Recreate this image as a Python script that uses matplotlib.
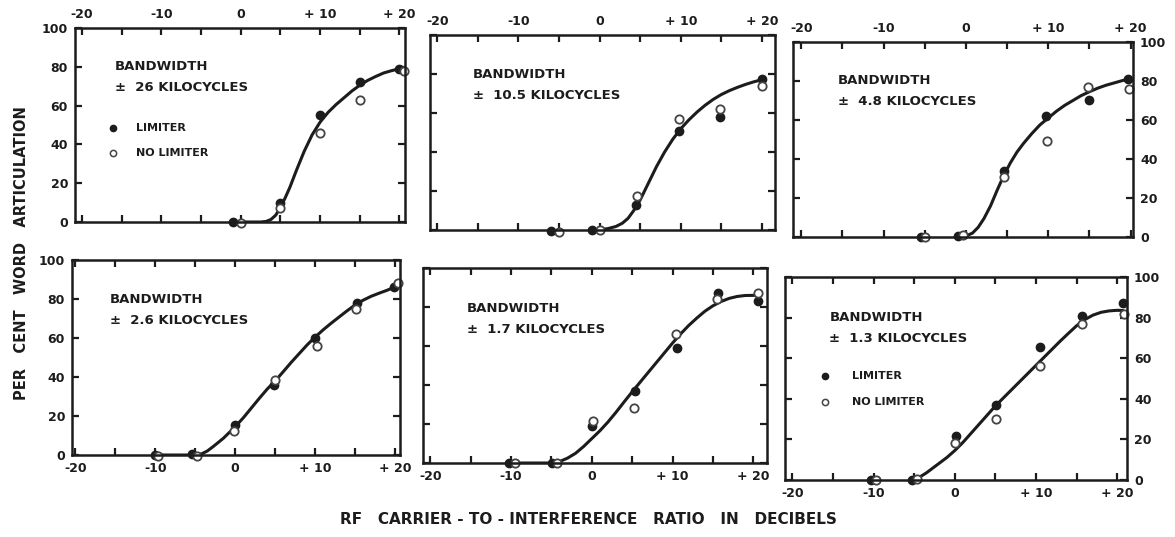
import matplotlib
matplotlib.use('Agg')
import matplotlib.pyplot as plt

# bandwidth of each panel, in kilocycles (top row, then bottom row)
bandwidths = ['26', '10.5', '4.8', '2.6', '1.7', '1.3']

# 26 kc
kc26_lim_x = [-1, 5, 10, 15, 20]
kc26_lim_y = [0, 10, 55, 72, 79]
kc26_nolim_x = [0, 5, 10, 15, 20.6]
kc26_nolim_y = [-0.5, 7, 46, 63, 78]
kc26_curve_x = [-1, 2.5, 3.2, 3.8, 4.4, 5, 5.6, 6.2, 7, 8, 9, 10, 11, 12, 13, 14,
                15, 16, 17, 18, 19, 20, 20.6]
kc26_curve_y = [0, 0, 0.3, 1.3, 3.5, 7.5, 12.5, 18, 26.5, 36.5, 45, 51.5, 56.5, 60.5,
                64, 67.5, 70.5, 73, 75, 76.8, 78, 79, 79.5]

# 10.5 kc
kc105_lim_x = [-6, -1, 4.5, 9.8, 14.8, 20]
kc105_lim_y = [-0.5, 0, 13, 51, 58, 77.5]
kc105_nolim_x = [-5, 0, 4.6, 9.8, 14.8, 20]
kc105_nolim_y = [-1, 0, 17.5, 57, 62, 74]
kc105_curve_x = [-1, 0, 1, 2, 2.8, 3.5, 4.2, 5, 6, 7, 8, 9, 10, 11, 12, 13, 14, 15,
                 16, 17, 18, 19, 20.2]
kc105_curve_y = [0, 0.2, 0.7, 1.8, 3.5, 6, 10, 15.5, 24, 32.5, 40, 46.5, 52, 56.5,
                 60.5, 64, 67, 69.5, 71.5, 73.2, 74.7, 76, 77.3]

# 4.8 kc
kc48_lim_x = [-5.5, -1, 4.6, 9.7, 15, 19.7]
kc48_lim_y = [0, 0.5, 34, 62, 70, 81]
kc48_nolim_x = [-5, -0.3, 4.6, 9.8, 14.8, 19.8]
kc48_nolim_y = [0, 1, 31, 49, 77, 76]
kc48_curve_x = [-1, 0, 0.8, 1.5, 2.2, 3, 3.8, 4.6, 5.4, 6.2, 7, 8, 9, 10, 11, 12, 13,
                14, 15, 16, 17, 18, 19, 19.8]
kc48_curve_y = [0, 0.5, 2, 5, 9.5, 16, 24, 31.5, 38, 43.5, 48, 53, 57.5, 61, 64.5,
                67.5, 70, 72.5, 74.5, 76.3, 77.8, 79, 80.2, 81]

# 2.6 kc
kc26b_lim_x = [-10, -5.4, 0, 4.9, 10, 15.2, 19.8]
kc26b_lim_y = [0, 0.5, 15.5, 36, 60, 78, 86]
kc26b_nolim_x = [-9.6, -4.8, -0.1, 5, 10.2, 15.1, 20.4]
kc26b_nolim_y = [-0.5, -0.5, 12.5, 38.5, 56, 75, 88]
kc26b_curve_x = [-10, -4.8, -4.2, -3.5, -2.7, -1.5, 0, 1, 2, 3, 4, 5, 6, 7, 8, 9, 10,
                 11, 12, 13, 14, 15, 16, 17, 18, 19, 20.3]
kc26b_curve_y = [0, 0, 0.6, 2, 4.5, 8.5, 14.5, 19, 24, 29, 33.8, 38, 42.7, 47.5, 52,
                 56.5, 60.5, 64.2, 67.6, 70.8, 74, 77, 79.4, 81.4, 83, 84.5, 86.8]

# 1.7 kc
kc17_lim_x = [-10.3, -4.9, 0, 5.3, 10.5, 15.6, 20.6]
kc17_lim_y = [0, 0, 19, 37, 59, 87, 83]
kc17_nolim_x = [-9.5, -4.3, 0.1, 5.2, 10.4, 15.5, 20.6]
kc17_nolim_y = [0, 0, 21.5, 28, 66, 84, 87]
kc17_curve_x = [-10, -5, -4, -3, -2, -1, 0, 1, 2, 3, 4, 5, 6, 7, 8, 9, 10, 11, 12, 13,
                14, 15, 16, 17, 18, 19, 20.6]
kc17_curve_y = [0, 0, 0.7, 2.5, 5, 8.5, 12.5, 16.5, 21, 26, 31.3, 36.5, 41.5, 46.5,
                51.5, 56.5, 61.5, 66.2, 70.5, 74.3, 77.8, 80.6, 82.8, 84.4, 85.4,
                85.9, 86]

# 1.3 kc
kc13_lim_x = [-10.3, -5.3, 0.1, 5.1, 10.5, 15.6, 20.7]
kc13_lim_y = [0, 0, 21.5, 37, 65.5, 81, 87]
kc13_nolim_x = [-9.7, -4.7, 0, 5.1, 10.5, 15.6, 20.8]
kc13_nolim_y = [0, 0.5, 18, 30, 56, 77, 82]
kc13_curve_x = [-5.3, -4.5, -3.5, -2.5, -1, 0, 1, 2, 3, 4, 5, 6, 7, 8, 9, 10, 11, 12,
                13, 14, 15, 16, 17, 18, 19, 20, 20.7]
kc13_curve_y = [0, 1, 3.5, 6.5, 11, 14.5, 18.5, 23, 27.5, 32, 36.5, 40.5, 44.5, 48.5,
                52.5, 56.5, 60.5, 64.5, 68.5, 72.3, 76, 79, 81.2, 82.6, 83.3, 83.6,
                83.5]

x_ticks = [-20, -15, -10, -5, 0, 5, 10, 15, 20]
x_tick_labels = ['-20', '', '-10', '', '0', '', '+ 10', '', '+ 20']
y_ticks = [0, 20, 40, 60, 80, 100]
y_tick_labels = ['0', '20', '40', '60', '80', '100']

ink = '#1c1c1c'
W, H = 1175, 537

fig = plt.figure(figsize=(W / 100, H / 100), dpi=100)
fig.patch.set_facecolor('white')


def panel(box, xlim, bw, lim, nolim, curve, top, yside, legend=None):
    l, t, r, b = box
    ax = fig.add_axes([l / W, 1 - b / H, (r - l) / W, (b - t) / H])
    ax.plot(curve[0], curve[1], color=ink, lw=2.2, solid_capstyle='round',
            solid_joinstyle='round')
    ax.plot(lim[0], lim[1], 'o', ms=6, color=ink, clip_on=False)
    ax.plot(nolim[0], nolim[1], 'o', ms=6, mfc='white', mec='#444444', mew=1.3, clip_on=False)
    ax.set_xlim(*xlim)
    ax.set_ylim(0, 100)
    ax.set_xticks(x_ticks)
    ax.set_xticklabels(x_tick_labels)
    ax.set_yticks(y_ticks)
    ax.set_yticklabels(y_tick_labels)
    for s in ax.spines.values():
        s.set_linewidth(1.8)
        s.set_color(ink)
    ax.tick_params(direction='in', length=5, width=1.6, color=ink, top=True, right=True,
                   labelsize=9, labelcolor=ink, pad=5,
                   labeltop=top, labelbottom=not top,
                   labelleft=(yside == 'left'), labelright=(yside == 'right'))
    for lab in ax.get_xticklabels() + ax.get_yticklabels():
        lab.set_fontweight('bold')
    bx, by = bw
    ax.text(bx, by, 'BANDWIDTH', transform=ax.transAxes, fontsize=9.5,
            fontweight='bold', color=ink, va='center')
    ax.text(bx, by - 0.105, '\u00b1  ' + lim[2] + ' KILOCYCLES', transform=ax.transAxes,
            fontsize=9.5, fontweight='bold', color=ink, va='center')
    if legend:
        mx, y1, y2, tx = legend
        ax.plot([mx], [y1], 'o', ms=4.5, color=ink, transform=ax.transAxes)
        ax.plot([mx], [y2], 'o', ms=4.5, mfc='white', mec='#444444', mew=1.1,
                transform=ax.transAxes)
        ax.text(tx, y1, 'LIMITER', transform=ax.transAxes, fontsize=8,
                fontweight='bold', color=ink, va='center')
        ax.text(tx, y2, 'NO LIMITER', transform=ax.transAxes, fontsize=8,
                fontweight='bold', color=ink, va='center')
    return ax


panel((75, 28, 405, 222), (-20.9, 20.7), (0.12, 0.80),
      (kc26_lim_x, kc26_lim_y, bandwidths[0]), (kc26_nolim_x, kc26_nolim_y),
      (kc26_curve_x, kc26_curve_y), True, 'left', legend=(0.115, 0.485, 0.356, 0.185))
panel((430, 35, 775, 230), (-20.9, 21.6), (0.125, 0.795),
      (kc105_lim_x, kc105_lim_y, bandwidths[1]), (kc105_nolim_x, kc105_nolim_y),
      (kc105_curve_x, kc105_curve_y), True, None)
panel((793, 42, 1133, 237), (-21.0, 20.3), (0.132, 0.80),
      (kc48_lim_x, kc48_lim_y, bandwidths[2]), (kc48_nolim_x, kc48_nolim_y),
      (kc48_curve_x, kc48_curve_y), True, 'right')
panel((72, 260, 400, 455), (-20.4, 20.6), (0.116, 0.795),
      (kc26b_lim_x, kc26b_lim_y, bandwidths[3]), (kc26b_nolim_x, kc26b_nolim_y),
      (kc26b_curve_x, kc26b_curve_y), False, 'left')
panel((423, 268, 767, 463), (-20.9, 21.7), (0.128, 0.79),
      (kc17_lim_x, kc17_lim_y, bandwidths[4]), (kc17_nolim_x, kc17_nolim_y),
      (kc17_curve_x, kc17_curve_y), False, None)
panel((785, 277, 1127, 480), (-20.9, 21.2), (0.13, 0.80),
      (kc13_lim_x, kc13_lim_y, bandwidths[5]), (kc13_nolim_x, kc13_nolim_y),
      (kc13_curve_x, kc13_curve_y), False, 'right', legend=(0.118, 0.51, 0.385, 0.196))

fig.text(22 / W, 1 - 253 / H, 'PER   CENT   WORD   ARTICULATION', rotation=90,
         ha='center', va='center', fontsize=10.5, fontweight='bold', color=ink)
fig.text(588 / W, 1 - 519 / H, 'RF   CARRIER - TO - INTERFERENCE   RATIO   IN   DECIBELS',
         ha='center', va='center', fontsize=11, fontweight='bold', color=ink)

fig.savefig('out.png', dpi=100, facecolor='white')
